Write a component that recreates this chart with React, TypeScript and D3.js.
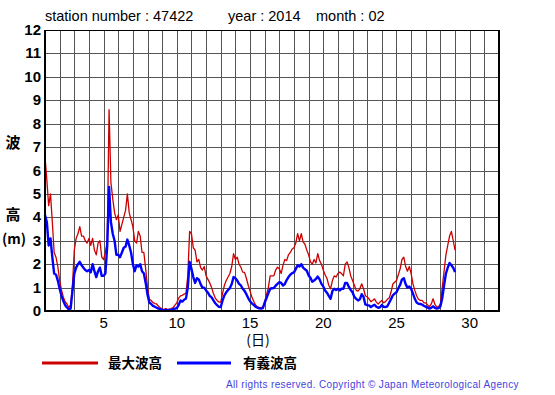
import React from 'react';
import * as d3 from 'd3';

// 3-hourly samples from day 1.000 to 29.000 (Feb 2014)
const startDay = 1;
const stepDay = 0.125;

const maxWave = [
  6.6, 5.6, 4.5, 5.0, 3.8, 2.5, 2.3, 1.9,
  1.3, 0.9, 0.6, 0.4, 0.3, 0.15, 0.25, 1.1,
  2.6, 3.1, 3.3, 3.6, 3.2, 3.2, 3.0, 2.9,
  3.1, 2.8, 3.1, 2.6, 2.4, 2.9, 3.0, 2.3,
  2.2, 2.5, 3.0, 8.6, 5.5, 4.8, 4.2, 3.9,
  4.1, 3.4, 3.7, 4.0, 4.3, 5.0, 4.2, 3.9,
  3.6, 3.0, 2.9, 3.4, 3.2, 2.5, 2.5, 1.8,
  1.0, 0.5, 0.45, 0.36, 0.32, 0.3, 0.2, 0.14,
  0.08, 0.07, 0.1, 0.06, 0.08, 0.1, 0.15, 0.25,
  0.35, 0.55, 0.65, 0.67, 0.72, 0.75, 1.5, 3.4,
  3.3, 2.7, 2.6, 2.1, 2.2, 1.85, 1.75, 1.9,
  1.5, 1.35, 1.2, 1.0, 0.75, 0.55, 0.45, 0.38,
  0.38, 0.75, 1.1, 1.3, 1.45, 1.6, 1.9, 2.45,
  2.2, 2.3, 2.0, 1.87, 1.66, 1.65, 1.4, 1.1,
  0.85, 0.6, 0.42, 0.26, 0.18, 0.15, 0.14, 0.16,
  0.4, 0.7, 1.0, 1.5, 1.5, 1.5, 1.75, 1.87,
  1.8, 1.6, 1.95, 2.2, 2.15, 2.4, 2.5, 2.65,
  2.7, 2.9, 3.3, 3.0, 3.3, 2.95, 2.85, 2.6,
  2.4, 2.1, 2.0, 2.2, 2.05, 2.45, 2.15, 2.0,
  1.75, 1.55, 1.4, 1.1, 0.95, 1.3, 1.5, 1.45,
  1.6, 1.66, 1.6, 1.5, 2.0, 2.1, 1.85, 1.5,
  1.3, 1.1, 0.88, 0.85, 0.95, 1.16, 0.95, 0.65,
  0.6, 0.52, 0.4, 0.45, 0.52, 0.38, 0.3, 0.38,
  0.45, 0.35, 0.4, 0.5, 0.55, 0.8, 1.15, 1.23,
  1.3, 1.55, 1.8, 2.2, 2.3, 1.9, 1.7, 1.9,
  1.6, 1.16, 0.88, 0.65, 0.5, 0.45, 0.45, 0.35,
  0.35, 0.26, 0.18, 0.3, 0.52, 0.28, 0.17, 0.18,
  0.3, 1.0, 1.7, 2.4, 2.8, 3.2, 3.4, 3.0,
  2.6,
];

const sigWave = [
  4.1, 3.8, 2.8, 3.1, 2.3, 1.6, 1.55, 1.3,
  0.95, 0.65, 0.43, 0.25, 0.15, 0.07, 0.1, 0.85,
  1.6, 1.85, 2.0, 2.1, 1.95, 1.85, 1.75, 1.7,
  1.75, 1.65, 2.0, 1.7, 1.45, 1.7, 1.85, 1.5,
  1.5, 1.6, 2.8, 5.3, 3.8, 3.3, 3.0, 2.4,
  2.4, 2.3, 2.5, 2.7, 2.75, 3.05, 2.8, 2.5,
  2.0, 1.7, 1.95, 1.9, 2.0, 1.7, 1.6, 1.2,
  0.7, 0.36, 0.3, 0.22, 0.18, 0.14, 0.1, 0.08,
  0.04, 0.03, 0.05, 0.03, 0.04, 0.05, 0.08, 0.1,
  0.12, 0.25, 0.45, 0.4, 0.48, 0.53, 1.0, 2.1,
  1.8, 1.45, 1.2, 1.4, 1.35, 1.15, 1.0, 1.0,
  0.88, 0.78, 0.65, 0.58, 0.45, 0.33, 0.25, 0.18,
  0.17, 0.45, 0.67, 0.8, 0.9, 0.98, 1.15, 1.45,
  1.4, 1.3, 1.16, 1.09, 0.95, 0.86, 0.72, 0.55,
  0.42, 0.33, 0.26, 0.18, 0.14, 0.11, 0.1, 0.12,
  0.35, 0.55, 0.75, 0.95, 0.97, 0.98, 1.08, 1.16,
  1.23, 1.2, 1.09, 1.15, 1.32, 1.45, 1.55, 1.62,
  1.65, 1.8, 1.95, 1.9, 2.0, 1.85, 1.78, 1.72,
  1.52, 1.42, 1.25, 1.3, 1.37, 1.47, 1.35, 1.16,
  1.05, 0.88, 0.78, 0.65, 0.52, 0.85, 0.95, 0.9,
  0.95, 0.88, 0.95, 0.95, 1.2, 1.2, 1.03, 0.9,
  0.8, 0.6, 0.52, 0.45, 0.5, 0.72, 0.6, 0.28,
  0.25, 0.24, 0.17, 0.22, 0.27, 0.18, 0.14, 0.16,
  0.25, 0.18, 0.17, 0.2, 0.35, 0.5, 0.67, 0.74,
  0.8, 0.97, 1.12, 1.35, 1.4, 1.15, 1.0, 1.05,
  0.95, 0.74, 0.52, 0.36, 0.31, 0.3, 0.27, 0.22,
  0.18, 0.15, 0.1, 0.13, 0.2, 0.13, 0.1, 0.12,
  0.2, 0.55, 1.1, 1.6, 1.85, 2.05, 1.95, 1.85,
  1.66,
];

const yTicks = [0, 1, 2, 3, 4, 5, 6, 7, 8, 9, 10, 11, 12];
const xTickLabels = [5, 10, 15, 20, 25, 30];
const xGridDays = d3.range(1, 33);
const legendLabels = ['最大波高', '有義波高'];
const titleParts = ['station number : 47422', 'year : 2014', 'month : 02'];

const W = 555;
const H = 395;
const margin = { top: 30, left: 45, right: 56, bottom: 84 };
const font = '"Liberation Sans", Arial, "Noto Sans CJK JP", sans-serif';
const jpFont = '"Noto Sans CJK JP", sans-serif';

export default function App() {
  const x = d3.scaleLinear().domain([1, 32]).range([margin.left, W - margin.right]);
  const y = d3.scaleLinear().domain([0, 12]).range([H - margin.bottom, margin.top]);

  const line = d3
    .line<number>()
    .x((_, i) => x(startDay + i * stepDay))
    .y((d) => y(d));

  const x0 = x(1), x1 = x(32), y0 = y(0), y1 = y(12);

  return (
    <svg width={W} height={H} style={{ position: 'absolute', left: 0, top: 0, background: '#fff' }}>
      <rect x={0} y={0} width={W} height={H} fill="#fff" />
      {/* title */}
      <g fontFamily={font} fontSize={14.5} fill="#000">
        <text x={45} y={21}>{titleParts[0]}</text>
        <text x={228} y={21}>{titleParts[1]}</text>
        <text x={316} y={21}>{titleParts[2]}</text>
      </g>
      {/* grid */}
      <g stroke="#555" strokeWidth={1} shapeRendering="crispEdges">
        {yTicks.slice(1, -1).map((t) => (
          <line key={'h' + t} x1={x0} x2={x1} y1={Math.round(y(t)) + 0.5} y2={Math.round(y(t)) + 0.5} />
        ))}
        {xGridDays.slice(1, -1).map((d) => (
          <line key={'v' + d} x1={Math.round(x(d)) + 0.5} x2={Math.round(x(d)) + 0.5} y1={y1} y2={y0} />
        ))}
      </g>
      {/* data */}
      <path d={line(maxWave) || ''} fill="none" stroke="#cc0000" strokeWidth={1.3} strokeLinejoin="round" />
      <path d={line(sigWave) || ''} fill="none" stroke="#0000ff" strokeWidth={2.4} strokeLinejoin="round" />
      {/* frame */}
      <g fill="none" stroke="#000" shapeRendering="crispEdges">
        <line x1={x0} x2={x1} y1={y1 + 0.5} y2={y1 + 0.5} strokeWidth={1} />
        <line x1={x1} x2={x1} y1={y1} y2={y0} strokeWidth={2} />
        <line x1={x0} x2={x0} y1={y1} y2={y0 + 1} strokeWidth={2} />
        <line x1={x0} x2={x1 + 1} y1={y0} y2={y0} strokeWidth={2} />
      </g>
      {/* y ticks */}
      <g fontFamily={font} fontSize={15} fontWeight="bold" textAnchor="end" fill="#000">
        {yTicks.map((t) => (
          <text key={t} x={41} y={y(t) + 5}>{t}</text>
        ))}
      </g>
      {/* x ticks */}
      <g fontFamily={font} fontSize={15} textAnchor="middle" fill="#000">
        {xTickLabels.map((t) => (
          <text key={t} x={x(t)} y={328}>{t}</text>
        ))}
      </g>
      <text x={258} y={345} fontFamily={jpFont} fontSize={14} textAnchor="middle">(日)</text>
      {/* y label */}
      <g fontFamily={jpFont} fontSize={15} fontWeight="bold" textAnchor="middle" fill="#000">
        <text x={13} y={148}>波</text>
        <text x={13} y={220}>高</text>
        <text x={14} y={244} fontSize={14}>(m)</text>
      </g>
      {/* legend */}
      <line x1={42} x2={98} y1={363} y2={363} stroke="#cc0000" strokeWidth={3} />
      <text x={108} y={368} fontFamily={jpFont} fontSize={13.5} fontWeight="bold">{legendLabels[0]}</text>
      <line x1={177} x2={231} y1={363} y2={363} stroke="#0000ff" strokeWidth={3} />
      <text x={243} y={368} fontFamily={jpFont} fontSize={13.5} fontWeight="bold">{legendLabels[1]}</text>
      {/* copyright */}
      <text x={226} y={388} fontFamily={font} fontSize={10} fill="#4444dd" letterSpacing={0.35}>
        All rights reserved. Copyright © Japan Meteorological Agency
      </text>
    </svg>
  );
}
